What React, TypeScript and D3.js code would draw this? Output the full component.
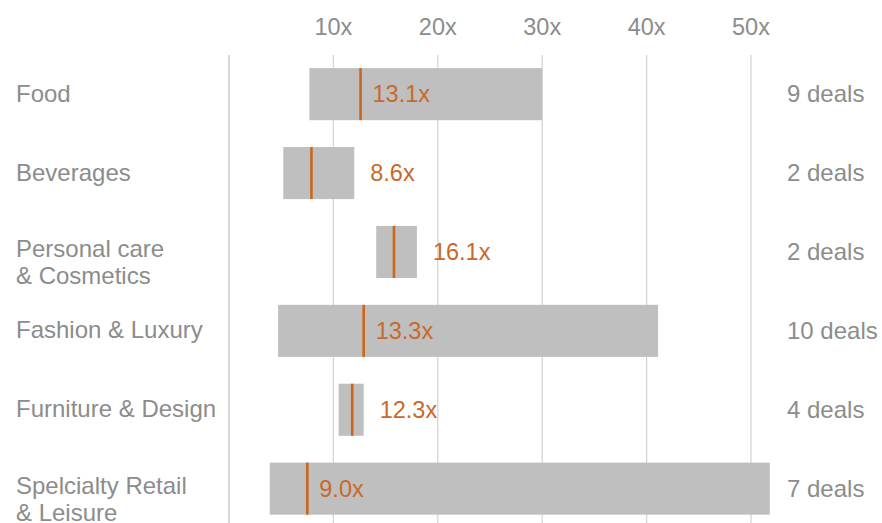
import React from "react";
import * as d3 from "d3";

const categories: string[][] = [
  ["Food"],
  ["Beverages"],
  ["Personal care", "& Cosmetics"],
  ["Fashion & Luxury"],
  ["Furniture & Design"],
  ["Spelcialty Retail", "& Leisure"],
];
const rangeLow = [7.7, 5.2, 14.1, 4.7, 10.5, 3.9];
const rangeHigh = [30.0, 12.0, 18.0, 41.1, 12.9, 51.8];
const medianMarker = [12.6, 7.9, 15.8, 12.9, 11.8, 7.5];
const medianValue = [13.1, 8.6, 16.1, 13.3, 12.3, 9.0];
const deals = [9, 2, 2, 10, 4, 7];
const xTicks = [10, 20, 30, 40, 50];

const W = 882;
const H = 523;
const FONT = "'Liberation Sans', Arial, sans-serif";
const GRAY_TEXT = "#8c8c8c";
const ORANGE_LINE = "#cc661c";
const ORANGE_TEXT = "#c8692a";
const BAR = "#bfbfbf";
const GRID = "#d6d6d6";

export default function App() {
  const x = d3.scaleLinear().domain([0, 50]).range([229, 751]);
  const ids = categories.map((_, i) => String(i));
  const y = d3
    .scaleBand<string>()
    .domain(ids)
    .range([41.3, 541.5])
    .paddingInner(0.34)
    .paddingOuter(0.34);
  const bw = y.bandwidth();

  return (
    <svg
      width={W}
      height={H}
      style={{ position: "absolute", left: 0, top: 0, background: "#fff" }}
      fontFamily={FONT}
    >
      {/* gridlines */}
      <line x1={x(0)} x2={x(0)} y1={55} y2={H} stroke="#c4c4c4" strokeWidth={1.3} />
      {xTicks.map((t) => (
        <g key={t}>
          <line x1={x(t)} x2={x(t)} y1={55} y2={H} stroke={GRID} strokeWidth={1.3} />
          <text
            x={x(t)}
            y={35}
            textAnchor="middle"
            fontSize={23.5}
            fill={GRAY_TEXT}
          >
            {`${t}x`}
          </text>
        </g>
      ))}

      {ids.map((id, i) => {
        const top = y(id)!;
        const cy = top + bw / 2;
        const markerX = x(medianMarker[i]);
        const labelX =
          rangeHigh[i] - medianMarker[i] > 6
            ? markerX + 12
            : x(rangeHigh[i]) + 16;
        return (
          <g key={id}>
            <rect
              x={x(rangeLow[i])}
              y={top}
              width={x(rangeHigh[i]) - x(rangeLow[i])}
              height={bw}
              fill={BAR}
            />
            <line
              x1={markerX}
              x2={markerX}
              y1={top}
              y2={top + bw}
              stroke={ORANGE_LINE}
              strokeWidth={2.6}
            />
            <text
              x={labelX}
              y={cy + 8}
              fontSize={23.5}
              fill={ORANGE_TEXT}
            >
              {`${medianValue[i].toFixed(1)}x`}
            </text>
            <text
              x={16}
              y={categories[i].length > 1 ? cy + 5 : cy + 7.5}
              fontSize={24}
              fill={GRAY_TEXT}
            >
              {categories[i].map((line, k) => (
                <tspan key={k} x={16} dy={k === 0 ? 0 : 27}>
                  {line}
                </tspan>
              ))}
            </text>
            <text x={787} y={cy + 8} fontSize={24} fill={GRAY_TEXT}>
              {`${deals[i]} deals`}
            </text>
          </g>
        );
      })}
    </svg>
  );
}
